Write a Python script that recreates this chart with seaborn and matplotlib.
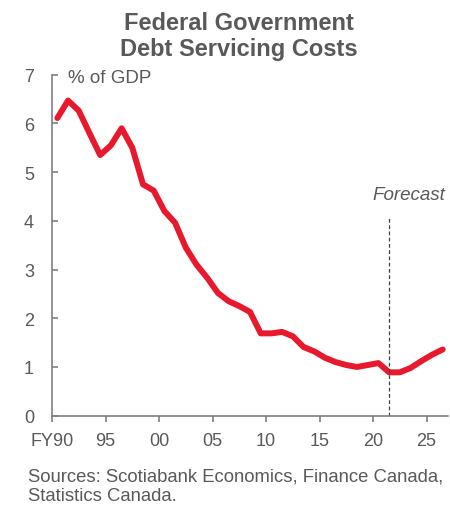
import matplotlib
matplotlib.use("Agg")
import matplotlib.pyplot as plt
import seaborn as sns
import pandas as pd

# Fiscal years FY90 .. FY26
years = list(range(1990, 2027))
debt_cost = [6.11, 6.47, 6.26, 5.80, 5.35, 5.55, 5.90, 5.50, 4.75, 4.62,
             4.20, 3.96, 3.45, 3.10, 2.83, 2.52, 2.35, 2.25, 2.13, 1.69,
             1.69, 1.72, 1.63, 1.41, 1.32, 1.19, 1.10, 1.04, 1.00, 1.04,
             1.08, 0.89, 0.89, 0.98, 1.12, 1.25, 1.36]
tick_years = [1990, 1995, 2000, 2005, 2010, 2015, 2020, 2025]
tick_labels = ["FY90", "95", "00", "05", "10", "15", "20", "25"]
forecast_start = 2021

sns.set_theme(style="white")
plt.rcParams['font.family'] = ['Liberation Sans', 'DejaVu Sans']

GRAY = "#595959"
AXC = "#7f7f7f"
RED = "#E8192C"
FS = 13

df = pd.DataFrame({"year": years, "value": debt_cost})
# categories centered between boundary ticks
df["x"] = df["year"] - years[0] + 0.5

fig = plt.figure(figsize=(4.5, 5.06), dpi=100)
ax = fig.add_axes([0.1156, 0.1765, 0.88, 0.6739])

sns.lineplot(data=df, x="x", y="value", ax=ax, color=RED, linewidth=4.3,
             solid_capstyle="round", solid_joinstyle="round")

fx = forecast_start - years[0] + 0.5
ax.plot([fx, fx], [0, 4.1], color="#404040", linestyle=(0, (3, 2)), linewidth=0.9)
ax.text(fx + 1.8, 4.55, "Forecast", style="italic", fontsize=13.5, color=GRAY,
        ha="center", va="center")

ax.set_xlim(0, 37)
ax.set_ylim(0, 7)
ax.set_xticks([t - years[0] for t in tick_years])
ax.set_xticklabels(tick_labels)
ax.set_yticks(range(0, 8))
ax.set_xlabel("")
ax.set_ylabel("")

for s in ["top", "right"]:
    ax.spines[s].set_visible(False)
for s in ["left", "bottom"]:
    ax.spines[s].set_color(AXC)
    ax.spines[s].set_linewidth(1.2)

ax.tick_params(axis="x", direction="out", length=4, width=1.2, color=AXC,
               labelsize=FS, labelcolor=GRAY, pad=8, bottom=True)
ax.tick_params(axis="y", direction="in", length=4, width=1.2, color=AXC,
               labelsize=FS, labelcolor=GRAY, pad=13, left=True)

ax.text(1.5, 6.95, "% of GDP", fontsize=13.5, color=GRAY, ha="left", va="center")

fig.text(0.531, 0.927, "Federal Government\nDebt Servicing Costs", ha="center",
         va="center", fontsize=17, fontweight="bold", color=GRAY, linespacing=1.16)

fig.text(0.062, 0.038, "Sources: Scotiabank Economics, Finance Canada,\nStatistics Canada.",
         ha="left", va="center", fontsize=13.3, color=GRAY, linespacing=1.22)

fig.savefig("out.png", dpi=100)
